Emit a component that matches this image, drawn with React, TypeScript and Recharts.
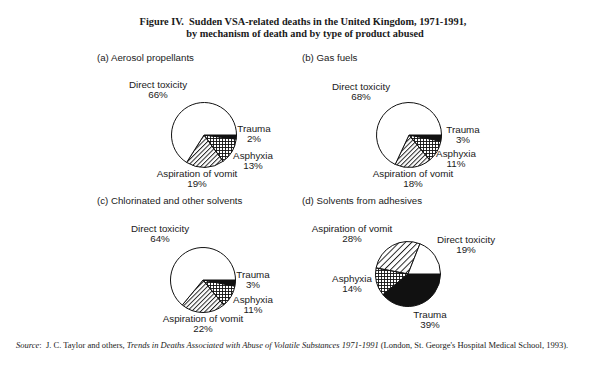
import { PieChart, Pie, Cell } from 'recharts'

// slices run clockwise from 3 o'clock in this order
const mechanisms = ['Trauma', 'Asphyxia', 'Aspiration of vomit', 'Direct toxicity']

const aerosolValues = [2, 13, 19, 66]
const gasFuelValues = [3, 11, 18, 68]
const chlorinatedValues = [3, 11, 22, 64]
const adhesiveValues = [39, 14, 28, 19]

const panelTitles = [
  '(a) Aerosol propellants',
  '(b) Gas fuels',
  '(c) Chlorinated and other solvents',
  '(d) Solvents from adhesives',
]

const titleLines = [
  'Figure IV.\u00a0 Sudden VSA-related deaths in the United Kingdom, 1971-1991,',
  'by mechanism of death and by type of product abused',
]

type Panel = {
  title: string
  values: number[]
  cx: number
  cy: number
  titleX: number
  titleY: number
  fills: string[]
  labels: [number, number][] // label offset from pie centre, per slice
}

const panels: Panel[] = [
  {
    title: panelTitles[0],
    values: aerosolValues,
    cx: 204,
    cy: 135,
    titleX: 97,
    titleY: 61,
    fills: ['#111', 'url(#grid)', 'url(#hatch)', '#fff'],
    labels: [[50, -7], [49, 20], [-7, 38], [-46, -51]],
  },
  {
    title: panelTitles[1],
    values: gasFuelValues,
    cx: 409,
    cy: 135,
    titleX: 302,
    titleY: 61,
    fills: ['#111', 'url(#grid)', 'url(#hatch)', '#fff'],
    labels: [[54, -6], [47, 18], [4, 38], [-48, -49]],
  },
  {
    title: panelTitles[2],
    values: chlorinatedValues,
    cx: 203,
    cy: 280,
    titleX: 97,
    titleY: 204,
    fills: ['#111', 'url(#grid)', 'url(#hatch)', '#fff'],
    labels: [[50, -6], [50, 19], [0, 38], [-43, -52]],
  },
  {
    title: panelTitles[3],
    values: adhesiveValues,
    cx: 408,
    cy: 274,
    titleX: 302,
    titleY: 204,
    fills: ['#111', 'url(#grid)', 'url(#hatchWide)', '#fff'],
    labels: [[22, 40], [-56, 4], [-56, -46], [58, -35]],
  },
]

const sans = '"Liberation Sans", Arial, Helvetica, sans-serif'
const serif = '"Liberation Serif", "Times New Roman", serif'

const makeLabel = (p: Panel) => (props: any) => {
  const i = props.index
  const [dx, dy] = p.labels[i]
  const x = p.cx + dx
  const y = p.cy + dy
  return (
    <text x={x} y={y} textAnchor="middle" fontFamily={sans} fontSize={9.8} fill="#1a1a1a">
      <tspan x={x} dy={3.5}>{mechanisms[i]}</tspan>
      <tspan x={x} dy={10}>{p.values[i]}%</tspan>
    </text>
  )
}

export default function App() {
  return (
    <div style={{ position: 'absolute', left: 0, top: 0, width: 593, height: 371, background: '#fff' }}>
      <svg width={593} height={371} style={{ position: 'absolute', left: 0, top: 0 }}>
        <defs>
          <pattern id="grid" width={3} height={3} patternUnits="userSpaceOnUse">
            <path d="M0 0.5H3M0.5 0V3" stroke="#111" strokeWidth={0.9} />
          </pattern>
          <pattern id="hatch" width={3.2} height={3.2} patternUnits="userSpaceOnUse" patternTransform="rotate(45)">
            <path d="M0.5 0V3.2" stroke="#111" strokeWidth={0.9} />
          </pattern>
          <pattern id="hatchWide" width={4.4} height={4.4} patternUnits="userSpaceOnUse" patternTransform="rotate(45)">
            <path d="M0.5 0V4.4" stroke="#111" strokeWidth={0.9} />
          </pattern>
        </defs>
        <text textAnchor="middle" fontFamily={serif} fontWeight="bold" fontSize={10.3} fill="#1a1a1a">
          <tspan x={303} y={25}>{titleLines[0]}</tspan>
          <tspan x={305} y={37}>{titleLines[1]}</tspan>
        </text>
        {panels.map((p) => (
          <text key={p.title} x={p.titleX} y={p.titleY} fontFamily={sans} fontSize={9.7} fill="#1a1a1a">
            {p.title}
          </text>
        ))}
        <text x={16} y={348} fontFamily={serif} fontSize={8.5} fill="#1a1a1a">
          <tspan fontStyle="italic">Source</tspan>
          <tspan>:{'\u00a0 '}J. C. Taylor and others, </tspan>
          <tspan fontStyle="italic">Trends in Deaths Associated with Abuse of Volatile Substances 1971-1991</tspan>
          <tspan> (London, St. George's Hospital Medical School, 1993).</tspan>
        </text>
      </svg>
      <div style={{ position: 'absolute', left: 0, top: 0 }}>
        <PieChart width={593} height={371} margin={{ top: 0, right: 0, bottom: 0, left: 0 }}>
          {panels.map((p) => (
            <Pie
              key={p.title}
              data={mechanisms.map((name, i) => ({ name, value: p.values[i] }))}
              dataKey="value"
              nameKey="name"
              cx={p.cx}
              cy={p.cy}
              innerRadius={0}
              outerRadius={32.5}
              startAngle={0}
              endAngle={-360}
              stroke="#111"
              strokeWidth={1}
              labelLine={false}
              label={makeLabel(p)}
              isAnimationActive={false}
            >
              {mechanisms.map((m, i) => (
                <Cell key={m} fill={p.fills[i]} />
              ))}
            </Pie>
          ))}
        </PieChart>
      </div>
    </div>
  )
}
